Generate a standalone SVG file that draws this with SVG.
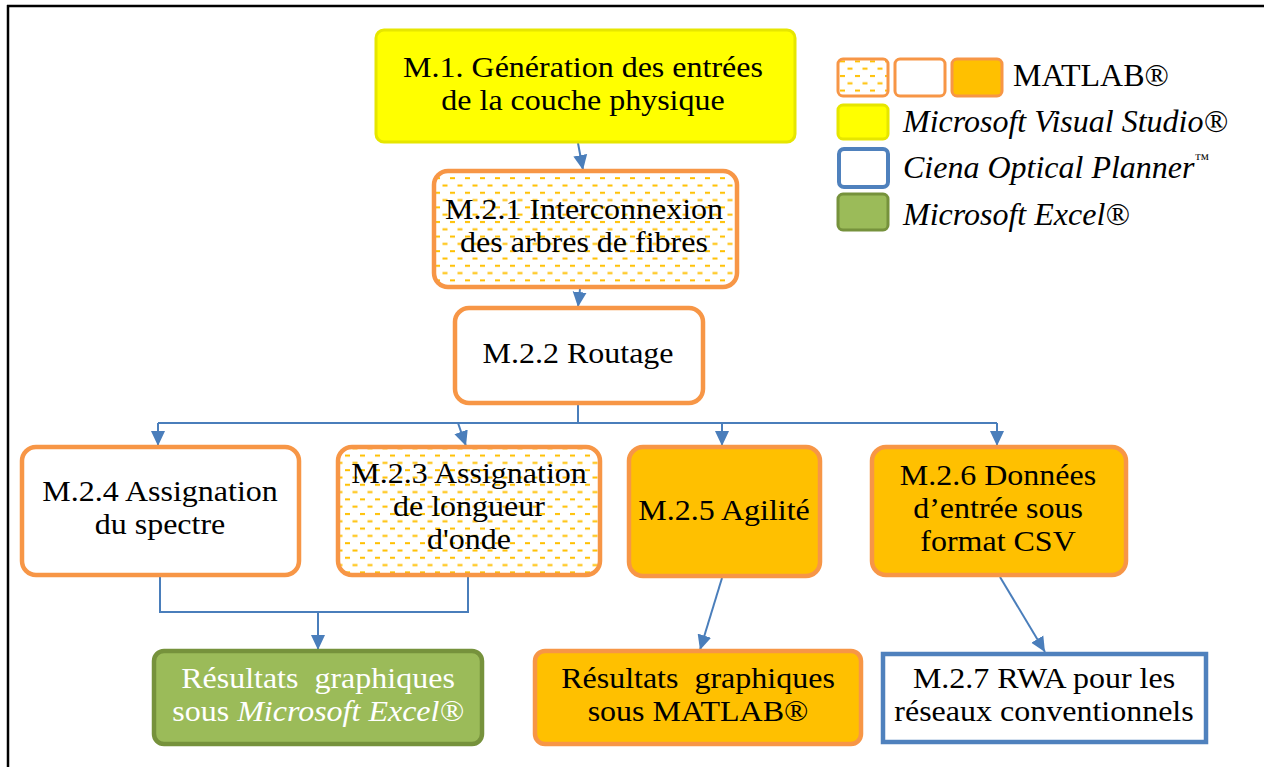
<svg xmlns="http://www.w3.org/2000/svg" width="1264" height="767" viewBox="0 0 1264 767">
<style>
text{font-family:"Liberation Serif","Times New Roman",serif;font-size:32px;fill:#000;}
.c{text-anchor:middle;}
.n{font-size:29.5px;}
.it{font-style:italic;}
.wt{fill:#fff;}
.orw{fill:#fff;stroke:#F79646;stroke-width:4.5;}
.orh{fill:url(#hatch);stroke:#F79646;stroke-width:4.5;}
.orf{fill:#FFC000;stroke:#F79646;stroke-width:4.5;}
.yel{fill:#FFFF00;stroke:#E6E600;stroke-width:3;}
.blu{fill:#fff;stroke:#4F81BD;stroke-width:4.5;}
.grn{fill:#9BBB59;stroke:#76923C;stroke-width:4.5;}
.cn{fill:none;stroke:#4A7EBB;stroke-width:2;}
</style>
<defs>
<pattern id="hatch" patternUnits="userSpaceOnUse" width="15" height="14.6">
<rect width="15" height="14.6" fill="#fff"/>
<rect x="0" y="2" width="5" height="2" fill="#FFC000"/>
<rect x="7.5" y="9.3" width="5" height="2" fill="#FFC000"/>
</pattern>
<marker id="ah" markerUnits="userSpaceOnUse" markerWidth="16" markerHeight="16" viewBox="0 0 16 16" refX="15" refY="8" orient="auto">
<path d="M0,1 L15,8 L0,15 Z" fill="#4A7EBB"/>
</marker>
</defs>
<rect width="1264" height="767" fill="#fff"/>
<g id="frame">
<line x1="7" y1="6" x2="1264" y2="6" stroke="#000" stroke-width="2.5"/>
<line x1="8" y1="5" x2="8" y2="767" stroke="#000" stroke-width="2.5"/>
</g>
<g id="connectors">
<line class="cn" x1="578" y1="143" x2="583" y2="170" marker-end="url(#ah)"/>
<line class="cn" x1="580" y1="289" x2="578" y2="307" marker-end="url(#ah)"/>
<line class="cn" x1="578" y1="404" x2="578" y2="423"/>
<line class="cn" x1="158" y1="423" x2="997" y2="423"/>
<line class="cn" x1="158" y1="423" x2="158" y2="446" marker-end="url(#ah)"/>
<line class="cn" x1="458" y1="423" x2="466" y2="446" marker-end="url(#ah)"/>
<line class="cn" x1="722" y1="423" x2="722" y2="446" marker-end="url(#ah)"/>
<line class="cn" x1="997" y1="423" x2="997" y2="446" marker-end="url(#ah)"/>
<polyline class="cn" points="160,577 160,612 468,612 468,577"/>
<line class="cn" x1="318" y1="612" x2="318" y2="650" marker-end="url(#ah)"/>
<line class="cn" x1="722" y1="578" x2="700" y2="650" marker-end="url(#ah)"/>
<line class="cn" x1="1000" y1="577" x2="1045" y2="652" marker-end="url(#ah)"/>
</g>
<g id="m1">
<rect class="yel" x="376" y="30" width="419" height="112" rx="8"/>
<text class="c n" transform="translate(583,76.5) scale(1.085,1)">M.1. Génération des entrées</text>
<text class="c n" transform="translate(583,109.5) scale(1.085,1)">de la couche physique</text>
</g>
<g id="m21">
<rect class="orh" x="434" y="171" width="303" height="116" rx="14"/>
<text class="c n" transform="translate(584,218.5) scale(1.085,1)">M.2.1 Interconnexion</text>
<text class="c n" transform="translate(584,251.5) scale(1.085,1)">des arbres de fibres</text>
</g>
<g id="m22">
<rect class="orw" x="455" y="308" width="248" height="95" rx="14"/>
<text class="c n" transform="translate(578,363) scale(1.085,1)">M.2.2 Routage</text>
</g>
<g id="m24">
<rect class="orw" x="22" y="447" width="277" height="128" rx="14"/>
<text class="c n" transform="translate(160,500.5) scale(1.085,1)">M.2.4 Assignation</text>
<text class="c n" transform="translate(160,533.5) scale(1.085,1)">du spectre</text>
</g>
<g id="m23">
<rect class="orh" x="338" y="447" width="262" height="128" rx="14"/>
<text class="c n" transform="translate(469,483) scale(1.085,1)">M.2.3 Assignation</text>
<text class="c n" transform="translate(469,516) scale(1.085,1)">de longueur</text>
<text class="c n" transform="translate(469,549) scale(1.085,1)">d'onde</text>
</g>
<g id="m25">
<rect class="orf" x="629" y="447" width="191" height="129" rx="14"/>
<text class="c n" transform="translate(724,520) scale(1.085,1)">M.2.5 Agilité</text>
</g>
<g id="m26">
<rect class="orf" x="872" y="447" width="254" height="128" rx="14"/>
<text class="c n" transform="translate(998,485) scale(1.085,1)">M.2.6 Données</text>
<text class="c n" transform="translate(998,518) scale(1.085,1)">d’entrée sous</text>
<text class="c n" transform="translate(998,551) scale(1.085,1)">format CSV</text>
</g>
<g id="resexcel">
<rect class="grn" x="154" y="651" width="328" height="93" rx="10"/>
<text class="c n wt" transform="translate(318,688) scale(1.085,1)" xml:space="preserve">Résultats  graphiques</text>
<text class="c n wt" transform="translate(318,721) scale(1.085,1)">sous <tspan class="it">Microsoft Excel®</tspan></text>
</g>
<g id="resmatlab">
<rect class="orf" x="535" y="651" width="326" height="93" rx="10"/>
<text class="c n" transform="translate(698,688) scale(1.085,1)" xml:space="preserve">Résultats  graphiques</text>
<text class="c n" transform="translate(698,721) scale(1.085,1)">sous MATLAB®</text>
</g>
<g id="m27">
<rect class="blu" x="883" y="654" width="323" height="88"/>
<text class="c n" transform="translate(1044,687.5) scale(1.085,1)">M.2.7 RWA pour les</text>
<text class="c n" transform="translate(1044,720.5) scale(1.085,1)">réseaux conventionnels</text>
</g>
<g id="legend">
<rect fill="url(#hatch)" stroke="#F79646" stroke-width="3" x="838" y="59" width="50" height="37" rx="5"/>
<rect fill="#fff" stroke="#F79646" stroke-width="3" x="895" y="59" width="50" height="37" rx="5"/>
<rect fill="#FFC000" stroke="#F79646" stroke-width="3" x="952" y="59" width="50" height="37" rx="5"/>
<text x="1013" y="86">MATLAB®</text>
<rect fill="#FFFF00" stroke="#E6E600" stroke-width="3" x="838" y="105" width="50" height="34" rx="5"/>
<text class="it" x="903" y="132">Microsoft Visual Studio®</text>
<rect fill="#fff" stroke="#4F81BD" stroke-width="4" x="839" y="149" width="49" height="38" rx="5"/>
<text class="it" x="903" y="178">Ciena Optical Planner<tspan font-style="normal" font-size="15" dy="-14">™</tspan></text>
<rect fill="#9BBB59" stroke="#76923C" stroke-width="3" x="838" y="194" width="50" height="36" rx="5"/>
<text class="it" x="903" y="225">Microsoft Excel®</text>
</g>
</svg>
